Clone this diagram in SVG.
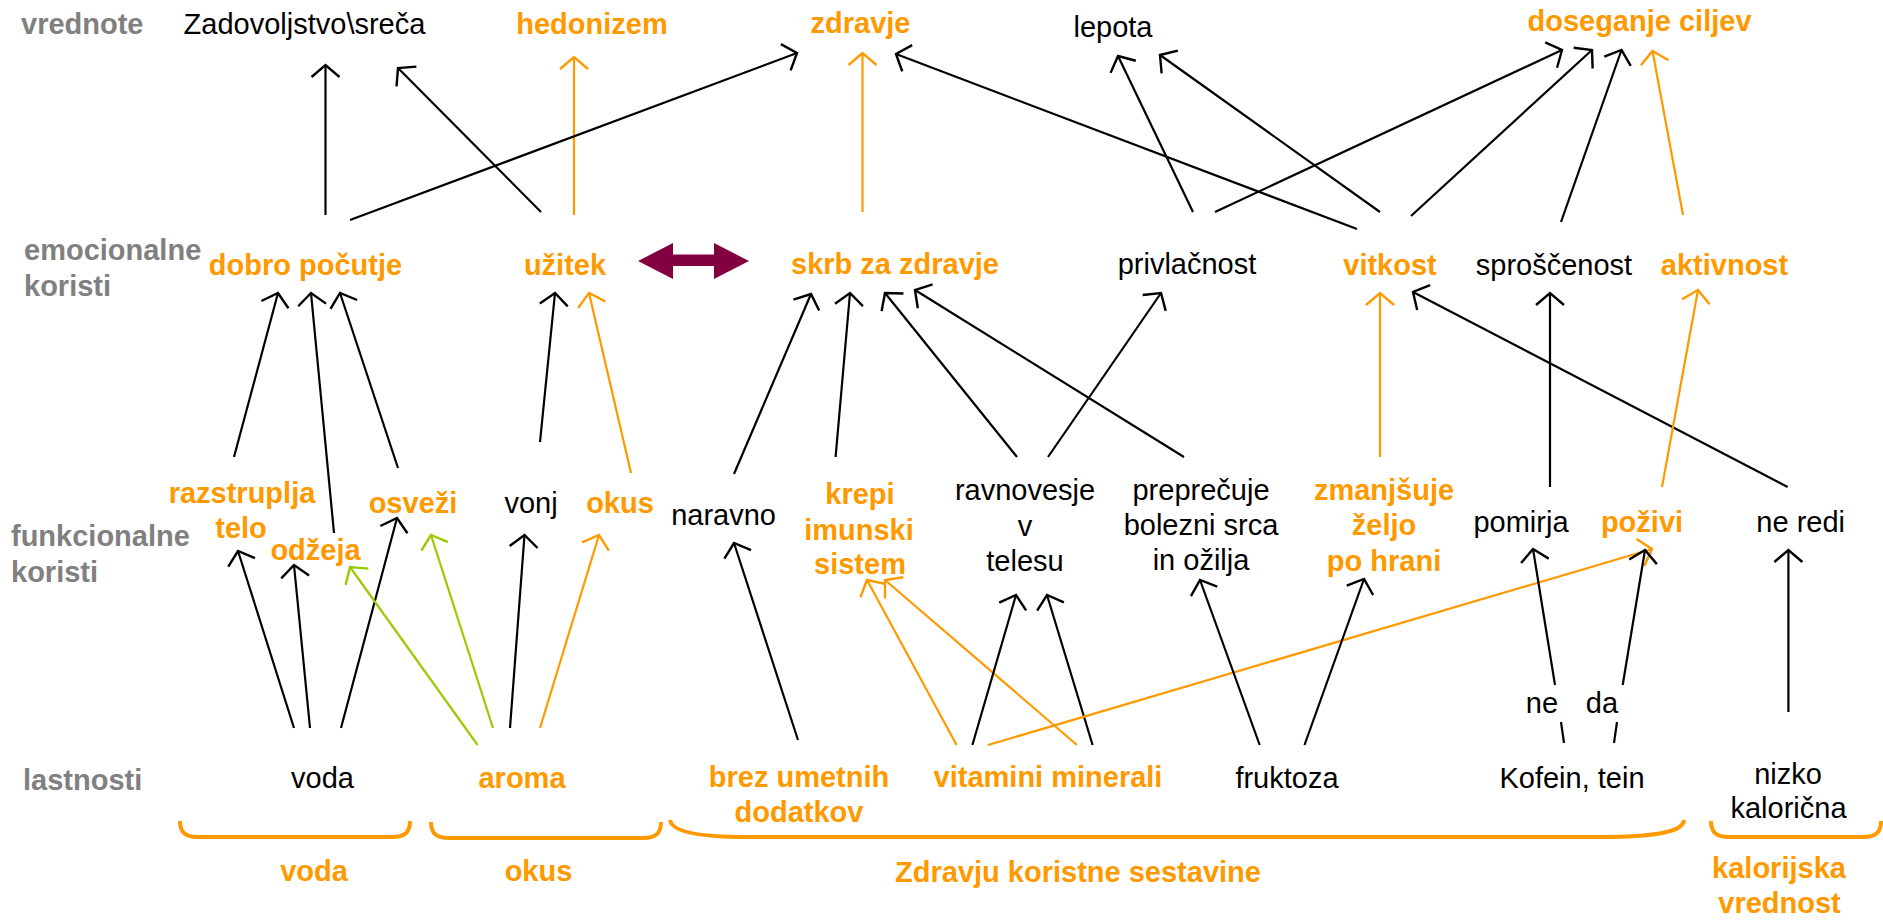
<svg xmlns="http://www.w3.org/2000/svg" width="1883" height="923" viewBox="0 0 1883 923">
<style>
text{font-family:"Liberation Sans",Arial,sans-serif;font-size:29px;text-anchor:middle}
.t{fill:#000}
.o{fill:#FF9900;font-weight:bold}
.g{fill:#808080;font-weight:bold;text-anchor:start}
.k{stroke:#000;stroke-width:2.2;fill:none;marker-end:url(#ak)}
.or{stroke:#FF9900;stroke-width:2.2;fill:none;marker-end:url(#ao)}
.gr{stroke:#99CC00;stroke-width:2.2;fill:none;marker-end:url(#ag)}
.kn{stroke:#000;stroke-width:2.2;fill:none}
.br{stroke:#FF9900;stroke-width:4;fill:none}
</style>
<defs>
<marker id="ak" markerUnits="userSpaceOnUse" markerWidth="30" markerHeight="34" viewBox="-15 -17 30 34" refX="0" refY="0" orient="auto"><path d="M-12,-14 L0,0 L-12,14" fill="none" stroke="#000" stroke-width="2.4"/></marker>
<marker id="ao" markerUnits="userSpaceOnUse" markerWidth="30" markerHeight="34" viewBox="-15 -17 30 34" refX="0" refY="0" orient="auto"><path d="M-12,-14 L0,0 L-12,14" fill="none" stroke="#FF9900" stroke-width="2.4"/></marker>
<marker id="ag" markerUnits="userSpaceOnUse" markerWidth="30" markerHeight="34" viewBox="-15 -17 30 34" refX="0" refY="0" orient="auto"><path d="M-12,-14 L0,0 L-12,14" fill="none" stroke="#99CC00" stroke-width="2.4"/></marker>
</defs>
<rect width="1883" height="923" fill="#fff"/>

<g id="row-labels">
<text class="g" x="21" y="34">vrednote</text>
<text class="g" x="24" y="260">emocionalne</text>
<text class="g" x="24" y="296">koristi</text>
<text class="g" x="11" y="546">funkcionalne</text>
<text class="g" x="11" y="582">koristi</text>
<text class="g" x="23" y="790">lastnosti</text>
</g>

<g id="connectors">
<!-- emotional -> values -->
<line class="k" x1="325.5" y1="215" x2="325.5" y2="65"/>
<line class="k" x1="541" y1="212" x2="398" y2="68"/>
<line class="or" x1="574" y1="215" x2="574" y2="57"/>
<line class="k" x1="350" y1="220" x2="797" y2="53"/>
<line class="or" x1="862.5" y1="212" x2="862.5" y2="53"/>
<line class="k" x1="1357" y1="229" x2="896" y2="54"/>
<line class="k" x1="1193" y1="212" x2="1118" y2="56"/>
<line class="k" x1="1380" y1="212" x2="1160" y2="55"/>
<line class="k" x1="1215" y1="212" x2="1562" y2="50"/>
<line class="k" x1="1411" y1="216" x2="1592" y2="50"/>
<line class="k" x1="1561" y1="222" x2="1621.5" y2="50"/>
<line class="or" x1="1683" y1="215" x2="1652.5" y2="51"/>
<!-- functional -> emotional -->
<line class="k" x1="234" y1="457" x2="278" y2="293"/>
<line class="k" x1="334" y1="533" x2="311" y2="293"/>
<line class="k" x1="398" y1="468" x2="340" y2="293"/>
<line class="k" x1="540" y1="442" x2="555" y2="293"/>
<line class="or" x1="631" y1="473" x2="589" y2="293"/>
<line class="k" x1="734" y1="474" x2="811" y2="294"/>
<line class="k" x1="835.6" y1="457" x2="850" y2="293"/>
<line class="k" x1="1017" y1="457" x2="885" y2="293"/>
<line class="k" x1="1184" y1="457" x2="915" y2="290"/>
<line class="k" x1="1048" y1="457" x2="1161" y2="293"/>
<line class="or" x1="1380" y1="457" x2="1380" y2="293"/>
<line class="k" x1="1787.6" y1="487" x2="1413" y2="292"/>
<line class="k" x1="1550" y1="487" x2="1550" y2="293"/>
<line class="or" x1="1662" y1="487" x2="1698" y2="290"/>
<!-- properties -> functional -->
<line class="k" x1="294" y1="728" x2="238" y2="551"/>
<line class="k" x1="310" y1="728" x2="294" y2="565"/>
<line class="k" x1="341" y1="728" x2="397" y2="518"/>
<line class="gr" x1="477.6" y1="745" x2="350" y2="567"/>
<line class="gr" x1="493" y1="728" x2="431" y2="535"/>
<line class="k" x1="510" y1="728" x2="524.5" y2="535"/>
<line class="or" x1="540" y1="728" x2="599" y2="535"/>
<line class="k" x1="798" y1="740" x2="734" y2="543"/>
<line class="or" x1="956.6" y1="745" x2="867" y2="580"/>
<line class="or" x1="1077" y1="745" x2="885" y2="580"/>
<line class="k" x1="972.4" y1="745" x2="1016" y2="595"/>
<line class="k" x1="1092.6" y1="745" x2="1047" y2="595"/>
<line class="or" x1="988" y1="745" x2="1652" y2="549"/>
<line class="k" x1="1259.7" y1="745" x2="1200" y2="580"/>
<line class="k" x1="1304.5" y1="745" x2="1364" y2="579"/>
<line class="kn" x1="1564" y1="743" x2="1561" y2="722"/>
<line class="k" x1="1555" y1="685" x2="1533" y2="549"/>
<line class="kn" x1="1614" y1="743" x2="1617" y2="722"/>
<line class="k" x1="1622.7" y1="685" x2="1645" y2="550"/>
<line class="k" x1="1788.4" y1="712" x2="1788.4" y2="550"/>
<!-- double arrow -->
<polygon points="638,261 673,243 673,254.5 714,254.5 714,243 749,261 714,279 714,266 673,266 673,279" fill="#830040"/>
</g>

<g id="braces">
<path class="br" d="M180,821 C180,833 186,837 198,837 L392,837 C404,837 410,833 410,821"/>
<path class="br" d="M431,822 C431,834 437,838 449,838 L643,838 C655,838 661,834 661,822"/>
<path class="br" d="M670,820 C672,832 700,837 745,837 L1600,837 C1655,837 1683,832 1684,820"/>
<path class="br" d="M1711,821 C1711,833 1717,837 1729,837 L1863,837 C1875,837 1881,833 1881,821"/>
</g>

<g id="values">
<text class="t" x="304.5" y="34">Zadovoljstvo\sreča</text>
<text class="o" x="592" y="34">hedonizem</text>
<text class="o" x="860.5" y="33">zdravje</text>
<text class="t" x="1113" y="37">lepota</text>
<text class="o" x="1639.5" y="31">doseganje ciljev</text>
</g>

<g id="emotional">
<text class="o" x="305.5" y="275">dobro počutje</text>
<text class="o" x="565" y="275">užitek</text>
<text class="o" x="895" y="274">skrb za zdravje</text>
<text class="t" x="1187" y="274">privlačnost</text>
<text class="o" x="1390" y="275">vitkost</text>
<text class="t" x="1554" y="275">sproščenost</text>
<text class="o" x="1724.5" y="275">aktivnost</text>
</g>

<g id="functional">
<text class="o" x="242" y="503">razstruplja</text>
<text class="o" x="241" y="538">telo</text>
<text class="o" x="315.5" y="560">odžeja</text>
<text class="o" x="413" y="513">osveži</text>
<text class="t" x="531" y="513">vonj</text>
<text class="o" x="620" y="513">okus</text>
<text class="t" x="723.6" y="525">naravno</text>
<text class="o" x="860" y="504">krepi</text>
<text class="o" x="859" y="540">imunski</text>
<text class="o" x="860" y="574">sistem</text>
<text class="t" x="1025" y="500">ravnovesje</text>
<text class="t" x="1025" y="536">v</text>
<text class="t" x="1025" y="571">telesu</text>
<text class="t" x="1201" y="500">preprečuje</text>
<text class="t" x="1201" y="535">bolezni srca</text>
<text class="t" x="1201" y="570">in ožilja</text>
<text class="o" x="1384" y="500">zmanjšuje</text>
<text class="o" x="1384" y="535">željo</text>
<text class="o" x="1384" y="571">po hrani</text>
<text class="t" x="1521" y="532">pomirja</text>
<text class="o" x="1642" y="532">poživi</text>
<text class="t" x="1800.7" y="532">ne redi</text>
</g>

<g id="properties">
<text class="t" x="322.5" y="788">voda</text>
<text class="o" x="522" y="788">aroma</text>
<text class="o" x="799" y="787">brez umetnih</text>
<text class="o" x="799" y="822">dodatkov</text>
<text class="o" x="1048" y="787">vitamini minerali</text>
<text class="t" x="1287" y="788">fruktoza</text>
<text class="t" x="1572" y="788">Kofein, tein</text>
<text class="t" x="1542" y="713">ne</text>
<text class="t" x="1602" y="713">da</text>
<text class="t" x="1788" y="784">nizko</text>
<text class="t" x="1788.5" y="818">kalorična</text>
</g>

<g id="groups">
<text class="o" x="314" y="881">voda</text>
<text class="o" x="538.5" y="881">okus</text>
<text class="o" x="1078" y="882">Zdravju koristne sestavine</text>
<text class="o" x="1779" y="878">kalorijska</text>
<text class="o" x="1779.5" y="913">vrednost</text>
</g>
</svg>
